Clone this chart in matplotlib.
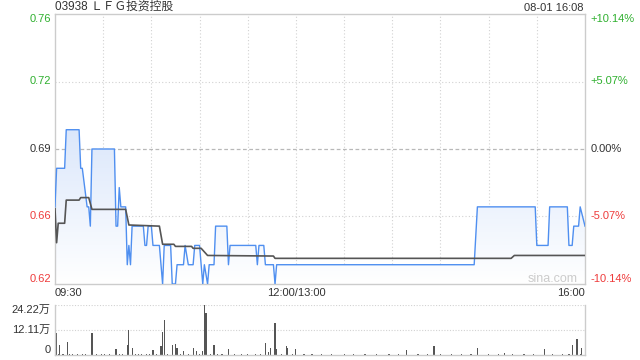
import matplotlib
matplotlib.use('Agg')
import matplotlib.pyplot as plt
import matplotlib.transforms as mtrans
from matplotlib.patches import Polygon
from matplotlib.colors import LinearSegmentedColormap
import numpy as np

# minutes from 09:30 (lunch break cut out, 12:00/13:00 = 150)
price_min = [0, 1, 6, 7, 15, 16, 17, 20, 21, 22, 23, 37, 38, 39, 40, 41, 44, 45, 46, 47, 48, 55,
             56, 57, 58, 60, 61, 65, 67, 68, 72, 73, 75, 76, 80, 81, 83, 86, 87, 90, 92, 93, 95,
             96, 99, 100, 107, 108, 109, 125, 126, 127, 130, 131, 136, 137, 138, 261, 263, 299,
             300, 307, 308, 319, 320, 322, 323, 326, 327, 330]
price = [0.66, 0.68, 0.68, 0.70, 0.70, 0.68, 0.68, 0.66, 0.66, 0.65, 0.69, 0.69, 0.65, 0.65, 0.67,
         0.66, 0.66, 0.63, 0.64, 0.63, 0.65, 0.65, 0.64, 0.64, 0.65, 0.65, 0.64, 0.64, 0.62, 0.64,
         0.64, 0.62, 0.62, 0.63, 0.63, 0.64, 0.63, 0.63, 0.64, 0.64, 0.62, 0.63, 0.62, 0.63, 0.63,
         0.65, 0.65, 0.63, 0.64, 0.64, 0.63, 0.64, 0.64, 0.63, 0.63, 0.62, 0.63, 0.63, 0.66, 0.66,
         0.64, 0.64, 0.66, 0.66, 0.64, 0.64, 0.65, 0.65, 0.66, 0.65]

avg_min = [0, 1, 2, 6, 7, 15, 16, 21, 23, 44, 46, 65, 67, 74, 75, 85, 86, 91, 95, 136, 137, 284, 286, 330]
avg = [0.659, 0.6414, 0.6515, 0.6515, 0.6635, 0.6635, 0.6648, 0.6648, 0.6587, 0.6587, 0.6506,
       0.6500, 0.6406, 0.6406, 0.6395, 0.6395, 0.6385, 0.6385, 0.6348, 0.6345, 0.6333, 0.6333,
       0.6348, 0.6348]

# volume in 万 shares
vol_min = [1, 3, 8, 23, 38, 45, 46, 48, 61, 66, 67, 68, 73, 75, 76, 80, 86, 88, 92, 93, 94, 99,
           108, 131, 133, 134, 137, 138, 144, 145, 150, 219, 236, 263, 280, 305, 322, 325, 328]
vol = [10.8, 4.8, 6.4, 10.8, 2.9, 4.8, 12.3, 3.5, 2.4, 4.5, 11.3, 17.0, 4.9, 5.3, 3.5, 2.0, 3.5,
       2.0, 2.0, 24.22, 20.2, 4.8, 2.9, 5.7, 1.5, 3.5, 15.5, 2.9, 4.2, 3.5, 2.9, 2.4, 4.5, 3.3,
       1.0, 2.9, 5.0, 7.9, 3.2]
# tiny trades along the baseline
small_min = [0, 2, 5, 9, 11, 14, 17, 19, 26, 29, 31, 34, 40, 42, 50, 52, 54, 57, 59, 63, 70, 78,
             83, 90, 97, 101, 104, 112, 116, 120, 125, 128, 141, 148, 155, 160, 166, 172, 180,
             186, 193, 200, 208, 214, 226, 232, 240, 247, 253, 259, 270, 276, 285, 292, 298,
             310, 316, 320, 327]
small_vol = 0.4

prev_close = 0.69
left_vals = [0.76, 0.725, 0.69, 0.655, 0.62]
left_labels = ['0.76', '0.72', '0.69', '0.66', '0.62']
right_labels = ['+10.14%', '+5.07%', '0.00%', '-5.07%', '-10.14%']
vol_vals = [24.22, 12.11, 0]
vol_labels = ['24.22万', '12.11万', '0']
time_ticks = [0, 150, 330]
time_labels = ['09:30', '12:00/13:00', '16:00']

GREEN = '#2fb02f'
RED = '#ee3b3b'
DARK = '#333333'
GRID = '#d2d2d2'
FONT = ['Liberation Sans', 'Noto Sans CJK SC', 'DejaVu Sans']
plt.rcParams['font.family'] = FONT

W, H = 640, 360
fig = plt.figure(figsize=(6.4, 3.6), dpi=100)
ax = fig.add_axes([55 / W, 1 - 284 / H, 530 / W, 270 / H])
axv = fig.add_axes([55 / W, 1 - 355 / H, 530 / W, 50 / H])

# price panel
for m in range(30, 330, 30):
    ax.axvline(m, color=GRID, lw=0.8, ls=(0, (1, 2)), zorder=0)
for v in [0.725, 0.655]:
    ax.axhline(v, color=GRID, lw=0.8, ls=(0, (1, 2)), zorder=0)
ax.axhline(prev_close, color='#b8b8b8', lw=0.9, ls=(0, (3, 2)), zorder=0)

verts = np.vstack([np.column_stack([price_min, price]), [[330, 0.62], [0, 0.62]]])
patch = Polygon(verts, closed=True, facecolor='none', edgecolor='none')
ax.add_patch(patch)
cmap = LinearSegmentedColormap.from_list('fill', ['#ffffff', '#dbe7fb'])
grad = np.linspace(1, 0, 256).reshape(-1, 1)
img = ax.imshow(grad, extent=[0, 330, 0.62, max(price)], aspect='auto', cmap=cmap,
                origin='upper', zorder=1, interpolation='bilinear')
img.set_clip_path(patch)

ax.plot(price_min, price, color='#4f8ff0', lw=1.0, zorder=3)
ax.plot(avg_min, avg, color='#555555', lw=1.2, zorder=4)

ax.set_xlim(0, 330)
ax.set_ylim(0.62, 0.76)
ax.set_xticks([])
ax.set_yticks([])
for s in ax.spines.values():
    s.set_color('#cccccc')
    s.set_linewidth(1)

tr = mtrans.blended_transform_factory(ax.transAxes, ax.transData)
for i, (v, lab, rlab) in enumerate(zip(left_vals, left_labels, right_labels)):
    if v > prev_close:
        c = GREEN
    elif v < prev_close:
        c = RED
    else:
        c = DARK
    va = 'top' if i == 0 else ('bottom' if i == len(left_vals) - 1 else 'center')
    ax.text(-0.008, v, lab, transform=tr, ha='right', va=va, color=c, fontsize=8)
    ax.text(1.01, v, rlab, transform=tr, ha='left', va=va, color=c, fontsize=8)

has = ['left', 'center', 'right']
for t, lab, ha in zip(time_ticks, time_labels, has):
    ax.annotate(lab, (t, 0), xycoords=('data', 'axes fraction'), xytext=(0, -3),
                textcoords='offset points', ha=ha, va='top', color=DARK, fontsize=8)

fig.text(55 / W, 1 - 13 / H, '03938 ＬＦＧ投资控股', ha='left', va='bottom', color=DARK,
         fontsize=8.5)
fig.text(584 / W, 1 - 13 / H, '08-01 16:08', ha='right', va='bottom', color=DARK, fontsize=8)
fig.text(553 / W, 1 - 279 / H, 'sina.com', ha='center', va='center', color='#cccccc',
         fontsize=9)

# volume panel
axv.bar(small_min, [small_vol] * len(small_min), width=0.7, color='#555555', lw=0)
axv.bar(vol_min, vol, width=0.7, color='#555555', lw=0)
for v in vol_vals[:2]:
    axv.axhline(v, color=GRID, lw=0.8, ls=(0, (1, 1.5)), zorder=0)
axv.set_xlim(0, 330)
axv.set_ylim(0, 24.22)
axv.set_xticks([])
axv.set_yticks([])
axv.spines['top'].set_visible(False)
for k in ['left', 'right', 'bottom']:
    axv.spines[k].set_color('#cccccc')
    axv.spines[k].set_linewidth(1)
trv = mtrans.blended_transform_factory(axv.transAxes, axv.transData)
for i, (v, lab) in enumerate(zip(vol_vals, vol_labels)):
    va = 'top' if i == 0 else ('bottom' if i == len(vol_vals) - 1 else 'center')
    axv.text(-0.008, v, lab, transform=trv, ha='right', va=va, color=DARK, fontsize=8)

fig.savefig('out.png', dpi=100, facecolor='white')
